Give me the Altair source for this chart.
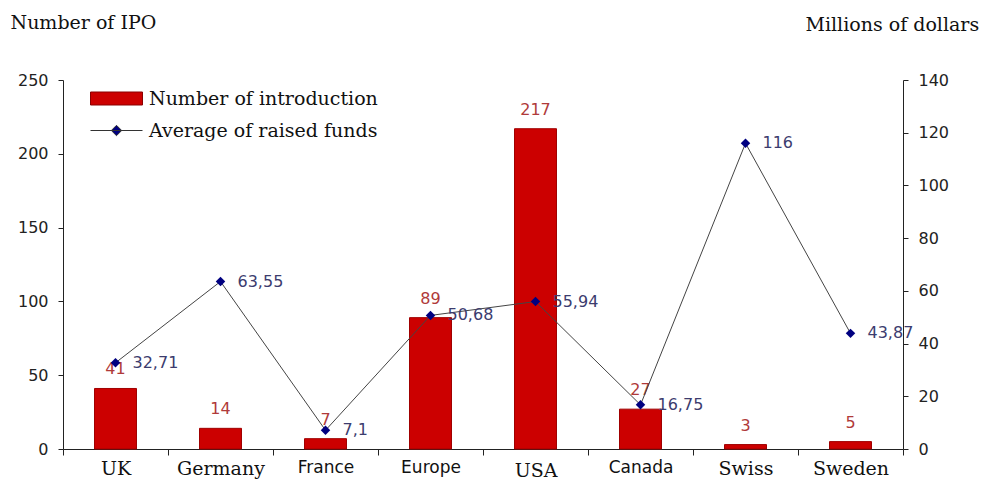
import altair as alt
import pandas as pd

countries = ["UK", "Germany", "France", "Europe", "USA", "Canada", "Swiss", "Sweden"]
ipo_counts = [41, 14, 7, 89, 217, 27, 3, 5]
avg_funds = [32.71, 63.55, 7.1, 50.68, 55.94, 16.75, 116, 43.87]
left_ticks = [0, 50, 100, 150, 200, 250]
right_ticks = [0, 20, 40, 60, 80, 100, 120, 140]
bar_series = "Number of introduction"
line_series = "Average of raised funds"

SERIF = "DejaVu Serif"
SANS = "DejaVu Sans"

df = pd.DataFrame({
    "country": countries,
    "ipo": ipo_counts,
    "funds": avg_funds,
    "s1": bar_series,
    "s2": line_series,
})

base = alt.Chart(df)

x = alt.X(
    "country:N",
    sort=countries,
    scale=alt.Scale(paddingInner=0, paddingOuter=0),
    axis=alt.Axis(
        title=None,
        labelAngle=0,
        tickBand="extent",
        tickSize=6,
        labelColor="#111",
        labelFont={"condition": {"test": "indexof(['France','Europe','Canada'], datum.value) >= 0", "value": SANS}, "value": SERIF},
        labelFontSize={"condition": {"test": "indexof(['France','Europe','Canada'], datum.value) >= 0", "value": 17}, "value": 19},
        labelPadding={"condition": {"test": "datum.value == 'USA'", "value": 6}, "value": 4},
        domainColor="#222",
        tickColor="#222",
    ),
)

y_left = alt.Y(
    "ipo:Q",
    scale=alt.Scale(domain=[0, 250]),
    axis=alt.Axis(
        values=left_ticks,
        title="Number of IPO",
        titleAngle=0,
        titleAlign="left",
        titleBaseline="middle",
        titleX=-53,
        titleY=-58,
        titleFont=SERIF,
        titleFontSize=19,
        titleFontWeight="normal",
        titleColor="#111",
        grid=False,
        tickSize=5,
        labelFont=SANS,
        labelFontSize=16,
        labelColor="#222",
        labelPadding=10,
        domainColor="#222",
        tickColor="#222",
    ),
)

y_right = alt.Y(
    "funds:Q",
    scale=alt.Scale(domain=[0, 140]),
    axis=alt.Axis(
        orient="right",
        values=right_ticks,
        title="Millions of dollars",
        titleAngle=0,
        titleAlign="left",
        titleBaseline="middle",
        titleX=-98,
        titleY=-56,
        titleFont=SERIF,
        titleFontSize=19,
        titleFontWeight="normal",
        titleColor="#111",
        grid=False,
        tickSize=5,
        labelFont=SANS,
        labelFontSize=16,
        labelColor="#222",
        labelPadding=10,
        domainColor="#222",
        tickColor="#222",
    ),
)

bars = base.mark_bar(size=42, stroke="#A00000", strokeWidth=1).encode(
    x=x,
    y=y_left,
    color=alt.Color(
        "s1:N",
        scale=alt.Scale(domain=[bar_series], range=["#CC0000"]),
        legend=alt.Legend(
            orient="none",
            legendX=27,
            legendY=-8,
            title=None,
            padding=0,
            symbolType="M-1,-0.25H1V0.25H-1Z",
            symbolSize=2704,
            symbolStrokeColor="#8A0000",
            symbolStrokeWidth=1,
            labelFont=SERIF,
            labelFontSize=19,
            labelColor="#111",
            labelOffset=6,
            labelLimit=400,
        ),
    ),
)

bar_labels = base.mark_text(dy=-19, font=SANS, fontSize=16, color="#B03A3A", baseline="middle").encode(
    x=x,
    y=y_left,
    text=alt.Text("ipo:Q"),
)

line = base.mark_line(color="#444444", strokeWidth=1).encode(
    x=x,
    y=y_right,
)

points = base.mark_point(shape="diamond", filled=True, size=90, opacity=1).encode(
    x=x,
    y=y_right,
    fill=alt.Fill(
        "s2:N",
        scale=alt.Scale(domain=[line_series], range=["#000080"]),
        legend=alt.Legend(
            orient="none",
            legendX=27,
            legendY=24,
            title=None,
            padding=0,
            symbolType="M-1,0H1M0,-0.2L0.2,0L0,0.2L-0.2,0Z",
            symbolSize=2704,
            symbolStrokeColor="#333333",
            symbolStrokeWidth=1,
            labelFont=SERIF,
            labelFontSize=19,
            labelColor="#111",
            labelOffset=6,
            labelLimit=400,
        ),
    ),
)

line_labels = base.transform_calculate(
    lbl="replace(toString(datum.funds), '.', ',')"
).mark_text(dx=17, align="left", baseline="middle", font=SANS, fontSize=16, color="#3C3C6E").encode(
    x=x,
    y=y_right,
    text="lbl:N",
)

left = alt.layer(bars, bar_labels)
right = alt.layer(line, points, line_labels)

chart = alt.layer(left, right).resolve_scale(y="independent").properties(
    width=840,
    height=369,
    padding={"left": 55, "top": 72, "right": 78, "bottom": 30},
    autosize=alt.AutoSizeParams(type="none"),
).configure_view(strokeWidth=0)

chart.save("out.html", embed_options={"renderer": "svg", "actions": False})
